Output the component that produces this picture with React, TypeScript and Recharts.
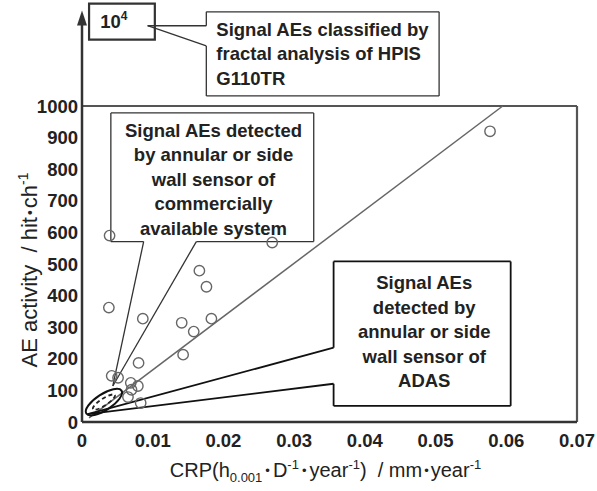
import { ScatterChart, Scatter, XAxis, YAxis, ReferenceLine, ReferenceArea, ReferenceDot, Label } from "recharts";

const FONT = "Arial, 'Liberation Sans', sans-serif";

const crp = [0.0039, 0.0269, 0.0166, 0.0176, 0.0038, 0.0086, 0.0141, 0.0183, 0.0158, 0.0143, 0.008, 0.0042, 0.0051, 0.0069, 0.0079, 0.007, 0.0065, 0.0083, 0.0577];
const aeActivity = [590, 568, 479, 428, 362, 327, 314, 327, 286, 213, 187, 146, 140, 124, 114, 102, 79, 60, 920];

const xTicks = [0, 0.01, 0.02, 0.03, 0.04, 0.05, 0.06, 0.07];
const yTicks = [0, 100, 200, 300, 400, 500, 600, 700, 800, 900, 1000];

// annotation outlines in data units (the y axis is broken above 1000)
const boundaryLine = [{ x: 0.001, y: 13 }, { x: 0.0595, y: 1000 }];
const fractalCallout = [[0.01758, 1298], [0.0505, 1298], [0.0505, 1032], [0.01758, 1032], [0.01758, 1190], [0.00928, 1254], [0.01758, 1254]];
const commercialCallout = [[0.00408, 978], [0.03277, 978], [0.03277, 571], [0.01617, 571], [0.00436, 114], [0.00872, 571], [0.00408, 571]];
const adasCallout = [[0.03558, 508], [0.06062, 508], [0.06062, 51], [0.03558, 51], [0.03558, 121], [0.0008, 25], [0.03558, 235]];

const fractalText = ["Signal AEs classified by", "fractal analysis of HPIS", "G110TR"];
const commercialText = ["Signal AEs detected", "by annular or side", "wall sensor of", "commercially", "available system"];
const adasText = ["Signal AEs", "detected by", "annular or side", "wall sensor of", "ADAS"];

const points = crp.map((x, i) => ({ x, y: aeActivity[i] }));

const segments = (poly: number[][]) =>
  poly.map((p, i) => {
    const q = poly[(i + 1) % poly.length];
    return [{ x: p[0], y: p[1] }, { x: q[0], y: q[1] }];
  });

const LH = 24.5;

const BlockText = ({ cx, cy, lines, anchor = "middle" }: any) => (
  <text
    x={cx}
    y={cy - ((lines.length - 1) * LH) / 2}
    textAnchor={anchor}
    fontSize={18.5}
    fontWeight={700}
    fill="#222"
    fontFamily={FONT}
  >
    {lines.map((l: string, i: number) => (
      <tspan key={i} x={cx} dy={i === 0 ? "0.35em" : LH}>
        {l}
      </tspan>
    ))}
  </text>
);

const YTitle = ({ viewBox }: any) => {
  const x = viewBox.x + 37;
  const y = viewBox.y + viewBox.height / 2 + 6;
  return (
    <text
      transform={`translate(${x},${y}) rotate(-90)`}
      textAnchor="middle"
      fontSize={22}
      fill="#222"
      fontFamily={FONT}
      style={{ whiteSpace: "pre" }}
    >
      <tspan>AE activity  / hit</tspan>
      <tspan fontSize={14} dx={2} dy={-2}>•</tspan>
      <tspan dx={2} dy={2}>ch</tspan>
      <tspan fontSize={14} dy={-9}>-1</tspan>
    </text>
  );
};

const XTitle = ({ viewBox }: any) => {
  const x = viewBox.x + viewBox.width / 2 - 4;
  const y = viewBox.y + 55;
  return (
    <text x={x} y={y} textAnchor="middle" fontSize={20} fill="#222" fontFamily={FONT} style={{ whiteSpace: "pre" }}>
      <tspan>CRP(h</tspan>
      <tspan fontSize={13} dy={5}>0.001</tspan>
      <tspan fontSize={13} dx={3} dy={-7}>•</tspan>
      <tspan dx={3} dy={2}>D</tspan>
      <tspan fontSize={13} dy={-8}>-1</tspan>
      <tspan fontSize={13} dx={3} dy={6}>•</tspan>
      <tspan dx={3} dy={2}>year</tspan>
      <tspan fontSize={13} dy={-8}>-1</tspan>
      <tspan dy={8}>)  / mm</tspan>
      <tspan fontSize={13} dx={2} dy={-2}>•</tspan>
      <tspan dx={2} dy={2}>year</tspan>
      <tspan fontSize={13} dy={-8}>-1</tspan>
    </text>
  );
};

const tickStyle = { fontSize: 18.5, fontWeight: 700, fill: "#222", fontFamily: FONT };

export default function App() {
  return (
    <div style={{ position: "absolute", left: 0, top: 0, background: "#fff" }}>
      <ScatterChart width={597} height={491} margin={{ top: 106, right: 20, bottom: 0, left: 0 }}>
        <XAxis
          type="number"
          dataKey="x"
          domain={[0, 0.07]}
          ticks={xTicks}
          allowDataOverflow
          tickFormatter={(v: number) => (v === 0 ? "0" : v.toFixed(2))}
          tick={tickStyle}
          tickLine={false}
          tickSize={0}
          tickMargin={12}
          axisLine={{ stroke: "#333", strokeWidth: 2.5 }}
          height={69}
        >
          <Label content={XTitle} />
        </XAxis>
        <YAxis
          type="number"
          dataKey="y"
          domain={[0, 1000]}
          ticks={yTicks}
          allowDataOverflow
          tick={tickStyle}
          tickLine={false}
          tickSize={0}
          tickMargin={4}
          axisLine={{ stroke: "#333", strokeWidth: 2.5 }}
          width={82}
        >
          <Label content={YTitle} />
        </YAxis>

        {/* plot frame */}
        <ReferenceLine y={1000} stroke="#555" strokeWidth={2.2} ifOverflow="visible" />
        <ReferenceLine x={0.07} stroke="#555" strokeWidth={2.2} ifOverflow="visible" />

        {/* broken axis extension up to 10^4 */}
        <ReferenceLine segment={[{ x: 0, y: 1000 }, { x: 0, y: 1285 }]} stroke="#333" strokeWidth={2.5} ifOverflow="visible" />
        <ReferenceDot
          x={0}
          y={1302}
          r={1}
          ifOverflow="visible"
          shape={(p: any) => (
            <polygon points={`${p.cx},${p.cy} ${p.cx - 5},${p.cy + 15} ${p.cx + 5},${p.cy + 15}`} fill="#333" />
          )}
        />
        <ReferenceArea x1={0.001} x2={0.0103} y1={1210} y2={1324} ifOverflow="visible" fill="#fff" fillOpacity={1} stroke="#333" strokeWidth={2.2} />
        <ReferenceDot
          x={0.0045}
          y={1267}
          r={1}
          ifOverflow="visible"
          shape={(p: any) => (
            <text x={p.cx} y={p.cy} dy="0.35em" textAnchor="middle" fontSize={18.5} fontWeight={700} fill="#222" fontFamily={FONT}>
              10<tspan fontSize={12} dy={-8}>4</tspan>
            </text>
          )}
        />

        <ReferenceLine segment={boundaryLine} stroke="#666" strokeWidth={1.5} ifOverflow="visible" />

        {segments(fractalCallout).map((s, i) => (
          <ReferenceLine key={`f${i}`} segment={s} stroke="#333" strokeWidth={1.3} ifOverflow="visible" />
        ))}
        {segments(commercialCallout).map((s, i) => (
          <ReferenceLine key={`c${i}`} segment={s} stroke="#333" strokeWidth={1.3} ifOverflow="visible" />
        ))}
        {segments(adasCallout).map((s, i) => (
          <ReferenceLine key={`a${i}`} segment={s} stroke="#111" strokeWidth={1.8} ifOverflow="visible" />
        ))}

        <ReferenceDot x={0.019} y={1165} r={1} ifOverflow="visible" shape={(p: any) => <BlockText cx={p.cx} cy={p.cy} lines={fractalText} anchor="start" />} />
        <ReferenceDot x={0.0186} y={768} r={1} ifOverflow="visible" shape={(p: any) => <BlockText cx={p.cx} cy={p.cy} lines={commercialText} />} />
        <ReferenceDot x={0.0484} y={285} r={1} ifOverflow="visible" shape={(p: any) => <BlockText cx={p.cx} cy={p.cy} lines={adasText} />} />

        {/* ellipse around the near-origin cluster */}
        <ReferenceDot
          x={0.0031}
          y={63}
          r={1}
          ifOverflow="visible"
          shape={(p: any) => (
            <g transform={`rotate(-33 ${p.cx} ${p.cy})`}>
              <ellipse cx={p.cx} cy={p.cy} rx={21} ry={8} fill="none" stroke="#111" strokeWidth={2} />
              <ellipse cx={p.cx} cy={p.cy} rx={13} ry={3.5} fill="none" stroke="#222" strokeWidth={1.8} strokeDasharray="4 3" />
            </g>
          )}
        />

        <Scatter
          data={points}
          isAnimationActive={false}
          shape={(p: any) => <circle cx={p.cx} cy={p.cy} r={5.2} fill="none" stroke="#666" strokeWidth={1.4} />}
        />
      </ScatterChart>
    </div>
  );
}
